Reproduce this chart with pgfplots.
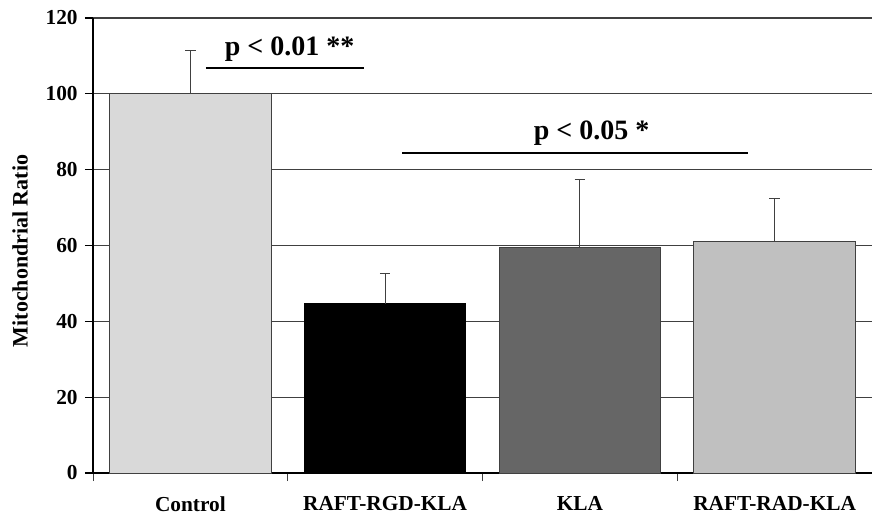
\documentclass[border=0pt]{standalone}
\usepackage{fontspec}
\setmainfont{Liberation Serif}
\usepackage{pgfplots}
\pgfplotsset{compat=1.18}
\usetikzlibrary{calc}
\definecolor{ctrl}{HTML}{D9D9D9}
\definecolor{klac}{HTML}{666666}
\definecolor{radc}{HTML}{C0C0C0}
\definecolor{gridc}{HTML}{404040}
\pgfplotsset{myerr/.style={error bars/.cd, y dir=plus, y explicit, error mark=|, error bar style={line width=0.8pt, gridc}, error mark options={line width=0.8pt, gridc, mark size=4pt}}}
\begin{document}
\begin{tikzpicture}
\begin{axis}[
  scale only axis,
  width=584.25pt, height=341.25pt,
  xmin=-0.5, xmax=3.5, ymin=0, ymax=120,
  axis x line=bottom, axis y line=left,
  axis line style={-, line width=0.8pt, black},
  xtick={0,1,2,3},
  xticklabels={Control, RAFT-RGD-KLA, KLA, RAFT-RAD-KLA},
  major x tick style={draw=none},
  minor xtick={-0.5,0.5,1.5,2.5},
  minor x tick style={line width=0.6pt, gridc},
  minor tick length=6pt,
  ytick={0,20,...,120},
  major tick length=6pt,
  tick align=outside,
  y tick style={line width=0.8pt, black},
  ymajorgrids,
  major grid style={line width=0.8pt, gridc},
  /pgf/number format/assume math mode=true,
  tick label style={font=\bfseries\fontsize{16}{16}\selectfont},
  xticklabel style={anchor=north, yshift=-8pt},
  yticklabel style={xshift=-2pt},
  ylabel={Mitochondrial Ratio},
  ylabel style={font=\bfseries\fontsize{16.5}{16.5}\selectfont, at={(axis description cs:-0.0937,0.488)}, anchor=center},
  ybar, bar width=0.83,
  clip=false,
]
\addplot[bar shift=0pt, fill=ctrl, draw=gridc, line width=0.7pt, myerr]
  coordinates {(0,100) +- (0,11.4)};
\addplot[bar shift=0pt, fill=black, draw=black, line width=0.7pt, myerr]
  coordinates {(1,44.6) +- (0,8.1)};
\addplot[bar shift=0pt, fill=klac, draw=gridc, line width=0.7pt, myerr]
  coordinates {(2,59.4) +- (0,18.0)};
\addplot[bar shift=0pt, fill=radc, draw=gridc, line width=0.7pt, myerr]
  coordinates {(3,61.0) +- (0,11.4)};
\draw[line width=1.6pt, black] (axis cs:0.08,106.7) -- (axis cs:0.89,106.7);
\draw[line width=1.6pt, black] (axis cs:1.088,84.3) -- (axis cs:2.865,84.3);
\node[anchor=base, font=\bfseries\fontsize{21}{21}\selectfont, inner sep=0pt] at (axis cs:0.51,110.0) {p < 0.01 **};
\node[anchor=base, font=\bfseries\fontsize{21}{21}\selectfont, inner sep=0pt] at (axis cs:2.06,88.0) {p < 0.05 *};
\end{axis}
\pgfresetboundingbox
\path[use as bounding box] ($(current axis.south west)+(-69.75pt,-32.25pt)$) rectangle ($(current axis.north east)+(0pt,13.5pt)$);
\end{tikzpicture}
\end{document}
